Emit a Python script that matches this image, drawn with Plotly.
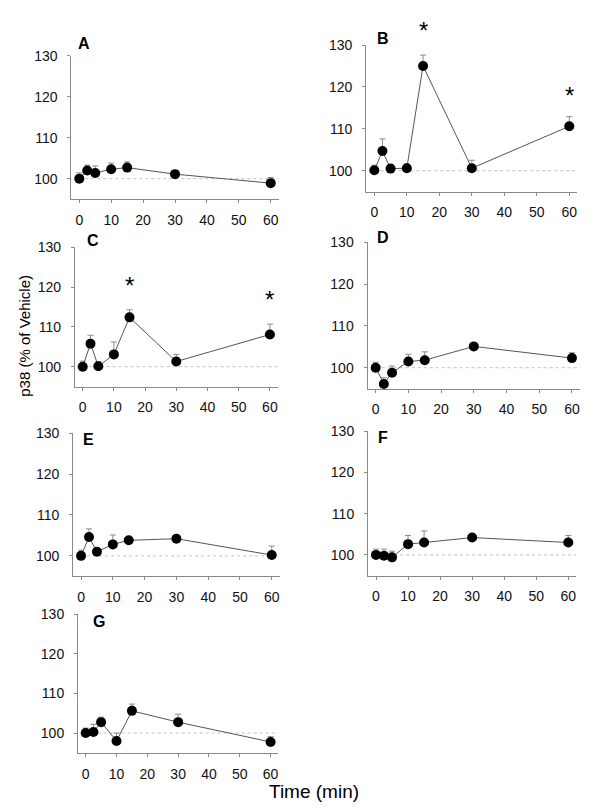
import plotly.graph_objects as go

# ---------------- data ----------------
times = [0, 2.5, 5, 10, 15, 30, 60]
x_ticks = [0, 10, 20, 30, 40, 50, 60]
y_ticks = [100, 110, 120, 130]
panel_names = ["A", "B", "C", "D", "E", "F", "G"]

A_mean = [100.0, 102.0, 101.4, 102.3, 102.7, 101.1, 98.9]
A_err = [1.4, 1.3, 1.7, 1.5, 1.4, 0.0, 1.4]
B_mean = [100.1, 104.7, 100.5, 100.6, 125.0, 100.6, 110.6]
B_err = [1.2, 2.9, 0.0, 1.0, 2.6, 1.9, 2.3]
C_mean = [100.0, 105.8, 100.1, 103.1, 112.4, 101.3, 108.1]
C_err = [1.4, 2.1, 1.2, 3.1, 1.9, 1.8, 2.6]
D_mean = [100.0, 96.1, 98.8, 101.5, 101.8, 105.1, 102.3]
D_err = [1.3, 1.5, 1.6, 1.7, 2.0, 0.0, 1.3]
E_mean = [100.0, 104.6, 101.0, 102.8, 103.8, 104.2, 100.2]
E_err = [1.4, 2.0, 0.0, 2.3, 0.6, 0.8, 2.2]
F_mean = [100.0, 99.8, 99.4, 102.6, 103.0, 104.2, 103.0]
F_err = [1.4, 1.6, 1.5, 2.1, 2.8, 0.0, 1.7]
G_mean = [100.0, 100.25, 102.75, 98.0, 105.6, 102.75, 97.75]
G_err = [1.25, 1.95, 1.25, 2.0, 1.7, 2.0, 1.35]

means = [A_mean, B_mean, C_mean, D_mean, E_mean, F_mean, G_mean]
errs = [A_err, B_err, C_err, D_err, E_err, F_err, G_err]

# significance stars: (panel index, time, y value of the star)
star_panel = [1, 1, 2, 2]
star_time = [15, 60, 15, 60]
star_y = [131.0, 115.6, 118.0, 114.3]

baseline = 100

# ---------------- layout geometry (pixels) ----------------
W, H = 600, 808
X_RANGE = [-2.5, 62.5]
Y_RANGE = [95, 130]
# left, right, top, bottom pixel bounds of each plot area
boxes = [
    (71.3, 278.7, 48.4, 193.0),
    (366.2, 577.4, 37.4, 185.5),
    (74.9, 277.7, 241.7, 382.4),
    (367.5, 580.1, 236.7, 384.4),
    (73.1, 279.7, 429.4, 574.0),
    (368.0, 576.3, 427.3, 573.2),
    (78.0, 278.3, 612.3, 752.3),
]
letter_pos = [(84, 36), (383, 31), (92.7, 235), (382.7, 231.7),
              (88.3, 436), (383.3, 434), (99, 619.3)]
STAR_SHIFT = 10  # px: glyph sits below text-box centre

FONT = "Liberation Sans, Arial, sans-serif"
AXC = "#8a8a8a"

fig = go.Figure()
layout = dict(
    width=W, height=H, margin=dict(l=0, r=0, t=0, b=0),
    paper_bgcolor="white", plot_bgcolor="white", showlegend=False,
    font=dict(family=FONT, size=14, color="#111"),
)
annotations = []

for i, name in enumerate(panel_names):
    l, r, t, b = boxes[i]
    sfx = "" if i == 0 else str(i + 1)
    xa, ya = "x" + sfx, "y" + sfx
    layout["xaxis" + sfx] = dict(
        domain=[l / W, r / W], range=X_RANGE, anchor=ya,
        tickvals=x_ticks, ticks="outside", ticklen=3, tickcolor=AXC,
        showline=True, linecolor=AXC, linewidth=1, showgrid=False,
        zeroline=False, ticklabelstandoff=5,
        tickfont=dict(family=FONT, size=14, color="#111"),
    )
    layout["yaxis" + sfx] = dict(
        domain=[1 - b / H, 1 - t / H], range=Y_RANGE, anchor=xa,
        tickvals=y_ticks, ticks="outside", ticklen=3, tickcolor=AXC,
        showline=True, linecolor=AXC, linewidth=1, showgrid=False,
        zeroline=False, ticklabelstandoff=7,
        tickfont=dict(family=FONT, size=14, color="#111"),
    )
    # dotted baseline
    fig.add_trace(go.Scatter(
        x=[times[0], X_RANGE[1]], y=[baseline, baseline], mode="lines",
        line=dict(color="#c2c2c2", width=1, dash="dot"),
        xaxis=xa, yaxis=ya, hoverinfo="skip", cliponaxis=False,
    ))
    fig.add_trace(go.Scatter(
        x=times, y=means[i], mode="lines+markers",
        line=dict(color="#555555", width=1),
        marker=dict(color="black", size=10),
        error_y=dict(type="data", symmetric=False, array=errs[i],
                     arrayminus=[0] * len(times), color="#8a8a8a",
                     thickness=1, width=3),
        xaxis=xa, yaxis=ya, cliponaxis=False,
    ))
    lx, ly = letter_pos[i]
    annotations.append(dict(
        x=lx / W, y=1 - ly / H, xref="paper", yref="paper",
        text="<b>%s</b>" % name, showarrow=False,
        font=dict(family=FONT, size=16, color="black"),
        xanchor="center", yanchor="middle",
    ))


def to_paper(p, xv, yv):
    l, r, t, b = boxes[p]
    px = l + (xv - X_RANGE[0]) / (X_RANGE[1] - X_RANGE[0]) * (r - l)
    py = b - (yv - Y_RANGE[0]) / (Y_RANGE[1] - Y_RANGE[0]) * (b - t)
    return px / W, 1 - (py - STAR_SHIFT) / H


for p, tx, sy in zip(star_panel, star_time, star_y):
    ax_, ay_ = to_paper(p, tx, sy)
    annotations.append(dict(
        x=ax_, y=ay_, xref="paper", yref="paper", text="*",
        showarrow=False, font=dict(family=FONT, size=24, color="black"),
        xanchor="center", yanchor="middle",
    ))

annotations.append(dict(
    x=314 / W, y=1 - 791 / H, xref="paper", yref="paper",
    text="Time (min)", showarrow=False,
    font=dict(family=FONT, size=19, color="black"),
    xanchor="center", yanchor="middle",
))
annotations.append(dict(
    x=25 / W, y=1 - 331 / H, xref="paper", yref="paper",
    text="p38 (% of Vehicle)", showarrow=False, textangle=-90,
    font=dict(family=FONT, size=15, color="black"),
    xanchor="center", yanchor="middle",
))

layout["annotations"] = annotations
fig.update_layout(**layout)
fig.write_html(
    "out.html",
    config={"displayModeBar": False},
    post_script="document.body.style.margin='0';document.body.style.overflow='hidden';",
)
